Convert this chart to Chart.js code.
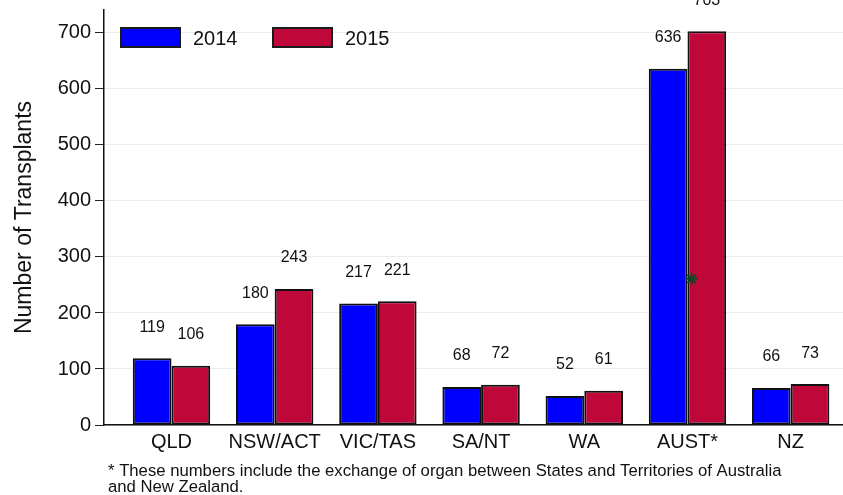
<!DOCTYPE html>
<html>
<head>
<meta charset="utf-8">
<script src="https://cdn.jsdelivr.net/npm/chart.js@4.4.1/dist/chart.umd.min.js"></script>
<style>
  html, body { margin: 0; padding: 0; background: #fff; }
  #wrap { width: 843px; height: 495px; position: relative; }
</style>
</head>
<body>
<div id="wrap"><canvas id="c" width="843" height="495"></canvas></div>
<script>
const categories = ['QLD', 'NSW/ACT', 'VIC/TAS', 'SA/NT', 'WA', 'AUST*', 'NZ'];
const years = ['2014', '2015'];
const values2014 = [119, 180, 217, 68, 52, 636, 66];
const values2015 = [106, 243, 221, 72, 61, 703, 73];
const yTicks = [0, 100, 200, 300, 400, 500, 600, 700];
const asteriskMark = [{ x: 5.04, y: 261 }];
const footnoteLines = [
  '* These numbers include the exchange of organ between States and Territories of Australia',
  'and New Zealand.'
];
const yTitle = 'Number of Transplants';

const FONT = '"Liberation Sans", Arial, Helvetica, sans-serif';
const colors = ['#0000ff', '#c0073a'];

const toXY = arr => arr.map((v, i) => ({ x: i, y: v }));

const valueLabels = {
  id: 'valueLabels',
  afterDatasetsDraw(chart) {
    const ctx = chart.ctx;
    ctx.save();
    ctx.font = '16px ' + FONT;
    ctx.fillStyle = '#111';
    ctx.textAlign = 'center';
    ctx.textBaseline = 'middle';
    [0, 1].forEach(di => {
      const meta = chart.getDatasetMeta(di);
      meta.data.forEach((bar, i) => {
        const v = chart.data.datasets[di].data[i].y;
        ctx.fillText(String(v), bar.x, bar.y - 31);
      });
    });
    ctx.restore();
  }
};

const customLegend = {
  id: 'customLegend',
  afterDraw(chart) {
    const ctx = chart.ctx;
    ctx.save();
    const xs = [120, 272];
    [0, 1].forEach(di => {
      const ds = chart.data.datasets[di];
      const x = xs[di], y = 27;
      ctx.fillStyle = ds.backgroundColor;
      ctx.fillRect(x, y, 61, 21);
      ctx.strokeStyle = '#1a1a1a';
      ctx.lineWidth = 2;
      ctx.strokeRect(x + 1, y + 1, 59, 19);
      ctx.fillStyle = '#111';
      ctx.font = '20px ' + FONT;
      ctx.textAlign = 'left';
      ctx.textBaseline = 'middle';
      ctx.fillText(ds.label, x + 73, y + 12);
    });
    ctx.restore();
  }
};

const footnote = {
  id: 'footnote',
  afterDraw(chart) {
    const ctx = chart.ctx;
    ctx.save();
    ctx.fillStyle = '#111';
    ctx.font = '16.7px ' + FONT;
    ctx.textAlign = 'left';
    ctx.textBaseline = 'middle';
    footnoteLines.forEach((t, i) => ctx.fillText(t, 108, 471 + i * 16));
    ctx.restore();
  }
};

new Chart(document.getElementById('c'), {
  type: 'bar',
  data: {
    datasets: [
      { label: years[0], data: toXY(values2014), backgroundColor: colors[0], borderColor: '#111', borderWidth: 2, borderSkipped: false },
      { label: years[1], data: toXY(values2015), backgroundColor: colors[1], borderColor: '#111', borderWidth: 2, borderSkipped: false },
      { type: 'scatter', label: 'note', order: -1, data: asteriskMark, pointStyle: 'star', radius: 6, borderColor: '#0d4a22', backgroundColor: '#0d4a22', borderWidth: 2 }
    ]
  },
  options: {
    responsive: false,
    animation: false,
    layout: { autoPadding: false, padding: { top: 10, right: 0, left: 0, bottom: 0 } },
    plugins: { legend: { display: false }, tooltip: { enabled: false } },
    datasets: { bar: { categoryPercentage: 0.75, barPercentage: 1 } },
    scales: {
      x: {
        type: 'linear',
        offset: false,
        min: -0.654,
        max: 6.507,
        afterBuildTicks(scale) { scale.ticks = categories.map((c, i) => ({ value: i })); },
        afterFit(scale) { scale.height = 70; scale.paddingLeft = 0; scale.paddingRight = 0; },
        ticks: {
          callback: v => categories[v] ?? '',
          font: { family: FONT, size: 20 },
          color: '#111',
          padding: 5,
          maxRotation: 0,
          autoSkip: false
        },
        grid: { display: false, drawTicks: false, offset: false },
        border: { display: true, color: '#111', width: 1.5 }
      },
      y: {
        min: 0,
        max: 741,
        afterBuildTicks(scale) { scale.ticks = yTicks.map(v => ({ value: v })); },
        afterFit(scale) { scale.width = 104; scale.paddingTop = 0; scale.paddingBottom = 0; },
        ticks: {
          font: { family: FONT, size: 20 },
          color: '#111',
          padding: 4
        },
        grid: { color: '#e6eeee', lineWidth: 1, tickLength: 9, tickColor: '#222', tickWidth: 1 },
        border: { display: true, color: '#111', width: 1.5 },
        title: { display: true, text: yTitle, font: { family: FONT, size: 23 }, color: '#111', padding: { top: 11, bottom: 0 } }
      }
    }
  },
  plugins: [valueLabels, customLegend, footnote]
});
</script>
</body>
</html>
